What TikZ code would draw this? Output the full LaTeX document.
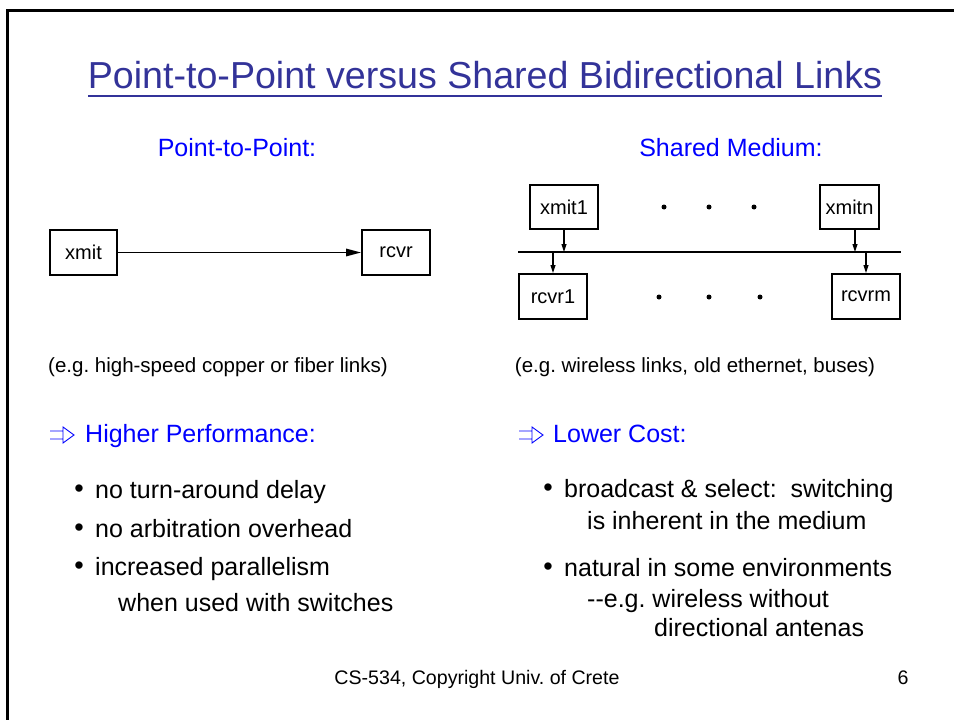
\documentclass[tikz,border=0pt]{standalone}
\usepackage{fontspec}
\setmainfont{Liberation Sans}
\usetikzlibrary{arrows.meta}
\definecolor{titleblue}{RGB}{51,51,153}
\definecolor{headblue}{RGB}{0,0,255}
\frenchspacing

\begin{document}
\begin{tikzpicture}[x=1pt,y=-1pt,
  box/.style={draw,line width=2pt,inner sep=0pt,minimum height=45pt,
    font=\fontsize{20}{24}\selectfont},
  body/.style={anchor=base west,inner sep=0pt,font=\fontsize{25}{30}\selectfont},
  subhead/.style={anchor=base,inner sep=0pt,text=headblue,font=\fontsize{25}{30}\selectfont},
  caption/.style={anchor=base,inner sep=0pt,font=\fontsize{20.5}{24}\selectfont},
  bul/.style={inner sep=0pt,font=\fontsize{27}{30}\selectfont},
  foot/.style={anchor=base,inner sep=0pt,font=\fontsize{19.6}{24}\selectfont},
  bigarrow/.style={line width=1.6pt,-{Triangle[length=15pt,width=7.5pt]}},
  tinyarrow/.style={line width=1.1pt,-{Triangle[length=8pt,width=5pt]}},
  dot/.style={fill,circle,inner sep=0pt,minimum size=5pt},
  implies/.pic={\draw[headblue,line width=0.9pt]
      (0,-4) -- (13,-4) (0,4) -- (13,4)
      (13,-8) -- (24,0) -- (13,8) -- cycle;}
]
\useasboundingbox (0,0) rectangle (954,720);
\fill[white] (0,0) rectangle (954,720);

% slide frame
\draw[line width=3pt,line join=miter] (7,720) -- (7,10.5) -- (954,10.5);

% title with underline
\node[anchor=base,inner sep=0pt,text=titleblue,font=\fontsize{37.6}{44}\selectfont]
  (title) at (485,88) {Point-to-Point versus Shared Bidirectional Links};
\draw[titleblue,line width=2.6pt] (88,96) -- (882,96);

% column headings
\node[subhead] (pphead) at (237,156) {Point-to-Point:};
\node[subhead] (shhead) at (731,156) {Shared Medium:};

% point-to-point link
\node[box,minimum width=67pt] (xmit) at (83.5,252.5) {xmit};
\node[box,minimum width=68pt] (rcvr) at (396,252.5) {rcvr};
\draw[bigarrow] (xmit.east) -- (rcvr.west);

% shared medium
\node[box,minimum width=68pt,minimum height=44pt] (xmit1) at (564,207) {xmit1};
\node[box,minimum width=59pt,minimum height=44pt] (xmitn) at (849.5,207) {xmitn};
\node[box,minimum width=68pt] (rcvr1) at (553,296.5) {rcvr1};
\node[box,minimum width=68pt] (rcvrm) at (866,296.5) {rcvrm};
\coordinate (busL) at (518,252);
\coordinate (busR) at (901,252);
\draw[line width=2.4pt] (busL) -- (busR);
\draw[tinyarrow] (xmit1.south) -- (xmit1.south |- busL);
\draw[tinyarrow] ([xshift=5.5pt]xmitn.south) -- ([xshift=5.5pt]xmitn.south |- busL);
\draw[tinyarrow] (rcvr1.north |- busL) -- (rcvr1.north);
\draw[tinyarrow] (rcvrm.north |- busL) -- (rcvrm.north);
\node[dot] (t1) at (664,207) {};
\node[dot] (t2) at (709,207) {};
\node[dot] (t3) at (754,207) {};
\node[dot] (b1) at (659,297) {};
\node[dot] (b2) at (709,297) {};
\node[dot] (b3) at (760,297) {};

% examples
\node[caption] (ppex) at (218,372) {(e.g. high-speed copper or fiber links)};
\node[caption] (shex) at (695,372) {(e.g. wireless links, old ethernet, buses)};

% left column: consequences
\pic at (50,435) {implies};
\node[body,text=headblue] (perf) at (85,442) {Higher Performance:};
\node[bul] (lb1) at (79,491.5) {•};
\node[body] (l1) at (95,498) {no turn-around delay};
\node[bul] (lb2) at (79,530.5) {•};
\node[body] (l2) at (95,537) {no arbitration overhead};
\node[bul] (lb3) at (79,568.5) {•};
\node[body] (l3) at (95,575) {increased parallelism};
\node[body] (l3b) at (118,611) {when used with switches};

% right column: consequences
\pic at (519,435) {implies};
\node[body,text=headblue] (cost) at (553,442) {Lower Cost:};
\node[bul] (rb1) at (548,490.5) {•};
\node[body] (r1) at (564,497) {broadcast \& select:\ \ switching};
\node[body] (r1b) at (587,529) {is inherent in the medium};
\node[bul] (rb2) at (548,569.5) {•};
\node[body] (r2) at (564,576) {natural in some environments};
\node[body] (r2b) at (587,607) {-{}-e.g. wireless without};
\node[body] (r2c) at (654,636) {directional antenas};

% footer
\node[foot] (footer) at (477,684) {CS-534, Copyright Univ. of Crete};
\node[foot] (page) at (903,684) {6};
\end{tikzpicture}
\end{document}
